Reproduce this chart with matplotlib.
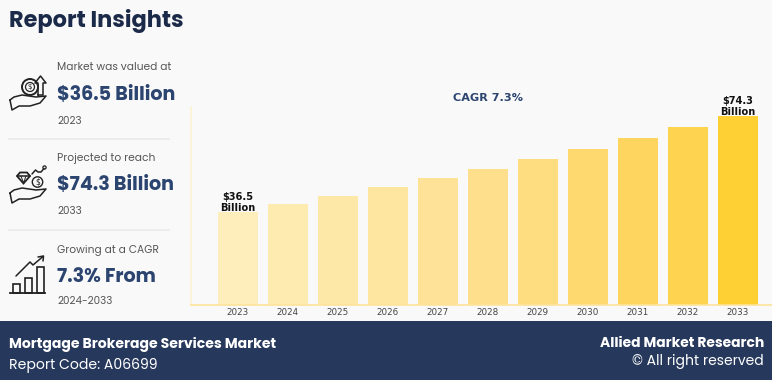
import matplotlib
matplotlib.use("Agg")
import matplotlib.pyplot as plt
from matplotlib.patches import Rectangle, Circle, Polygon

years = [2023, 2024, 2025, 2026, 2027, 2028, 2029, 2030, 2031, 2032, 2033]
values = [36.5, 39.7, 42.8, 46.4, 49.9, 53.5, 57.4, 61.3, 65.7, 70.0, 74.3]
bar_colors = ["#feeebb", "#feebb0", "#fee8a8", "#fee5a0", "#fee298", "#fedf8c",
              "#fedc80", "#fed96f", "#fed65f", "#fed350", "#fed034"]
value_labels = {2023: "$36.5\nBillion", 2033: "$74.3\nBillion"}

W, H = 772, 380
BG = "#f9f9f9"
NAVY = "#26385b"
BLUE = "#2c4470"
DARK = "#1c2a4a"
GREY = "#555555"
HEAD = ["Poppins", "Inter", "DejaVu Sans"]

fig = plt.figure(figsize=(W / 100, H / 100), dpi=100, facecolor=BG)

ax = fig.add_axes([191 / W, 1 - 305 / H, (W - 191) / W, 198 / H], facecolor="none")
ax.bar(range(len(years)), values, width=0.8, color=bar_colors)
ax.set_xlim(-0.93, 10.68)
ax.set_ylim(0, 77.8)
ax.set_xticks(range(len(years)))
ax.set_xticklabels(years, fontsize=6.3, color="#444444")
ax.set_yticks([])
ax.tick_params(axis="x", length=0, pad=2)
for s in ("top", "right"):
    ax.spines[s].set_visible(False)
ax.spines["left"].set_color("#fdf3d3")
ax.spines["left"].set_linewidth(1.2)
ax.spines["bottom"].set_color("#fee39a")
ax.spines["bottom"].set_linewidth(1.2)
for i, y in enumerate(years):
    if y in value_labels:
        ax.annotate(value_labels[y], (i, values[i]), xytext=(0, -0.5),
                    textcoords="offset points", ha="center", va="bottom",
                    fontsize=7.1, fontweight="bold", color="#111111", linespacing=1.05)

ov = fig.add_axes([0, 0, 1, 1], facecolor="none")
ov.set_xlim(0, W)
ov.set_ylim(H, 0)
ov.axis("off")
ov.add_patch(Rectangle((0, 321), W, 59, color=NAVY, lw=0))

ov.text(9, 21, "Report Insights", fontsize=16.2, fontweight="bold", color=DARK,
        family=HEAD, va="center")
ov.text(488, 98, "CAGR 7.3%", fontsize=8.1, fontweight="bold", color=BLUE,
        ha="center", va="center")

blocks = [
    (68, "Market was valued at", 96, "$36.5 Billion", 121, "2023"),
    (159, "Projected to reach", 186, "$74.3 Billion", 211, "2033"),
    (251, "Growing at a CAGR", 278, "7.3% From", 301, "2024-2033"),
]
for y1, t1, y2, t2, y3, t3 in blocks:
    ov.text(57, y1, t1, fontsize=7.65, color=GREY, family=HEAD, va="center")
    ov.text(57, y2, t2, fontsize=13.8, fontweight="bold", color=BLUE, family=HEAD, va="center")
    ov.text(57, y3, t3, fontsize=7.4, color=GREY, family=HEAD, va="center")
for y in (138.5, 229.5):
    ov.plot([9, 169], [y, y], color="#ebebeb", lw=1.3)

ov.text(9, 344, "Mortgage Brokerage Services Market", fontsize=10.1, fontweight="bold",
        color="white", family=HEAD, va="center")
ov.text(9, 365.5, "Report Code: A06699", fontsize=10.1, color="white", family=HEAD, va="center")
ov.text(764, 344, "Allied Market Research", fontsize=10, fontweight="bold",
        color="white", family=HEAD, va="center", ha="right")
ov.text(764, 361.5, "© All right reserved", fontsize=10, color="white", family=HEAD,
        va="center", ha="right")

ic = dict(color="#222222", lw=1.1, solid_capstyle="round")
def hand(y):
    ov.plot([10, 14, 22, 29, 36, 46, 40, 30, 19, 12, 10],
            [y, y - 3, y - 5, y - 4, y - 3, y - 4, y + 3, y + 6, y + 6, y + 10, y], **ic)

# icon 1: hand, coin, arrow
hand(100)
ov.add_patch(Circle((30, 87), 8, fill=False, ec="#222222", lw=1.4))
ov.add_patch(Circle((30, 87), 4.5, fill=False, ec="#222222", lw=0.9))
ov.text(30, 87, "$", fontsize=5, ha="center", va="center", color="#222222")
ov.plot([38, 38, 35, 40.5, 46, 43, 43, 38], [95, 83, 83, 76, 83, 83, 95, 95], **ic)

# icon 2: hand, coin, diamond, squiggle
hand(193)
ov.add_patch(Circle((37.5, 182), 5.2, fill=False, ec="#222222", lw=1))
ov.text(37.5, 182, "$", fontsize=5.5, ha="center", va="center", color="#222222")
ov.add_patch(Polygon([(17, 176), (20, 172.5), (27, 172.5), (30, 176), (23.5, 183.5)],
                     fc="none", ec="#222222", lw=1.3))
ov.plot([17, 30], [176, 176], **ic)
ov.plot([21, 23.5, 26], [176, 183, 176], color="#222222", lw=0.7)
ov.plot([32, 35.5, 38, 41, 44], [174, 170, 172, 172, 168.5], **ic)
ov.add_patch(Circle((44.5, 167.5), 1.6, fill=False, ec="#222222", lw=0.9))

# icon 3: bar chart with arrow
ov.plot([10, 45], [293, 293], color="#222222", lw=1.3)
for x0, top in ((13, 284), (25, 278), (37, 267)):
    ov.add_patch(Rectangle((x0, top), 6.5, 293 - top, fill=False, ec="#222222", lw=1.2))
ov.plot([16, 30, 33, 43], [276, 262, 265, 256.5], **ic)
ov.plot([38, 43.5, 43], [257, 256, 261], **ic)

fig.savefig("out.png", dpi=100, facecolor=BG)
